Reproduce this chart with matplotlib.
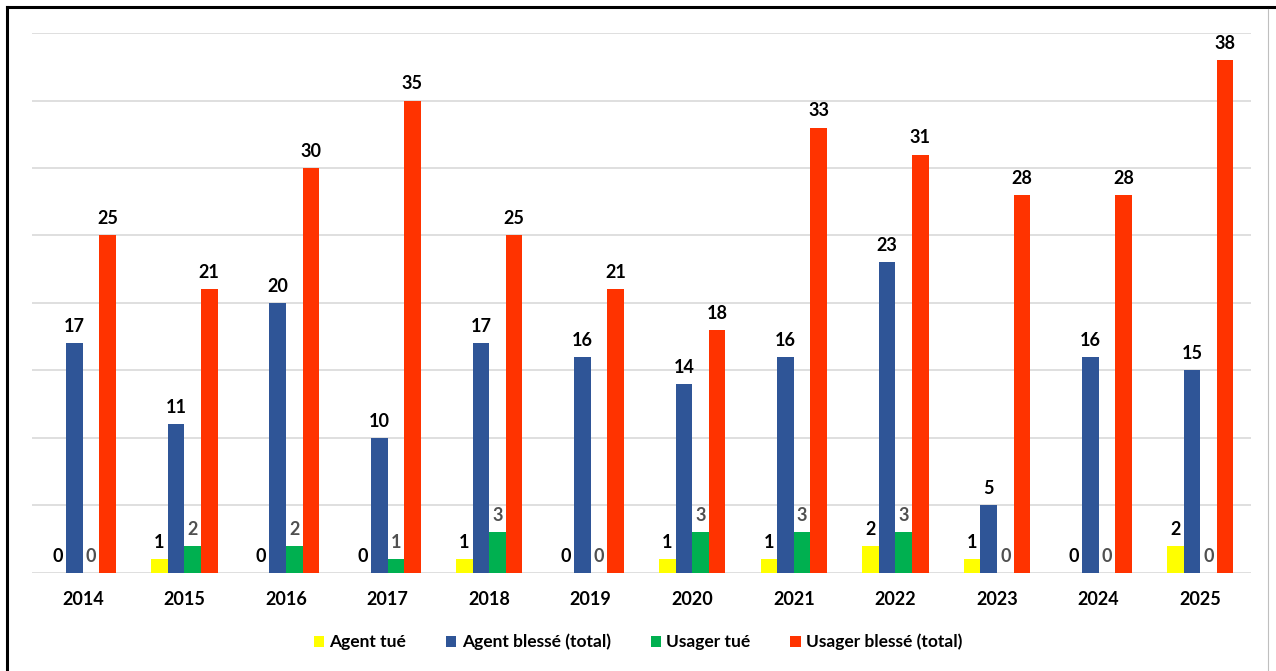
import numpy as np
import matplotlib.pyplot as plt
from matplotlib.lines import Line2D

# données
annees = ['2014', '2015', '2016', '2017', '2018', '2019', '2020', '2021', '2022', '2023', '2024', '2025']
agent_tue = [0, 1, 0, 0, 1, 0, 1, 1, 2, 1, 0, 2]
agent_blesse = [17, 11, 20, 10, 17, 16, 14, 16, 23, 5, 16, 15]
usager_tue = [0, 2, 2, 1, 3, 0, 3, 3, 3, 0, 0, 0]
usager_blesse = [25, 21, 30, 35, 25, 21, 18, 33, 31, 28, 28, 38]

series = [
    ('Agent tué', agent_tue, '#FFFF00', 'black'),
    ('Agent blessé (total)', agent_blesse, '#2F5597', 'black'),
    ('Usager tué', usager_tue, '#00B050', '#505050'),
    ('Usager blessé (total)', usager_blesse, '#FF3300', 'black'),
]

plt.rcParams['font.family'] = ['Lato', 'DejaVu Sans']

fig = plt.figure(figsize=(12.76, 6.71), dpi=100)
ax = fig.add_axes([0.0251, 0.1461, 0.9553, 0.8047])

x = np.arange(len(annees))
w = 0.163
for i, (nom, vals, couleur, coul_txt) in enumerate(series):
    pos = x + (i - 1.5) * w
    bars = ax.bar(pos, vals, width=w, color=couleur, label=nom, zorder=3)
    for b, v in zip(bars, vals):
        ax.annotate(str(v), (b.get_x() + b.get_width() / 2, v),
                    xytext=(0, 6), textcoords='offset points',
                    ha='center', va='bottom', fontsize=13, fontweight='bold',
                    color=coul_txt, zorder=4)

ax.set_xlim(-0.5, len(annees) - 0.5)
ax.set_ylim(0, 40)
ax.set_yticks(np.arange(0, 41, 5))
ax.set_yticklabels([])
ax.grid(axis='y', color='#D9D9D9', linewidth=1.2, zorder=0)
ax.set_xticks(x)
ax.set_xticklabels(annees, fontsize=13, fontweight='bold')
ax.tick_params(length=0, pad=13)
for s in ax.spines.values():
    s.set_visible(False)

fig.legend(loc='center', bbox_to_anchor=(0.5, 0.043), ncol=4, frameon=False,
           handlelength=0.6, handleheight=0.6, handletextpad=0.3,
           columnspacing=2.3, prop={'size': 12.5, 'weight': 'bold'})

# cadre
fig.add_artist(Line2D([7 / 1276, 7 / 1276], [0, 1 - 7 / 671], color='black', linewidth=2.2, transform=fig.transFigure))
fig.add_artist(Line2D([7 / 1276, 1], [1 - 7 / 671, 1 - 7 / 671], color='black', linewidth=2.2, transform=fig.transFigure))
fig.add_artist(Line2D([1268 / 1276, 1268 / 1276], [0, 1 - 9 / 671], color='#BFBFBF', linewidth=0.8, transform=fig.transFigure))

fig.savefig('out.png', dpi=100)
